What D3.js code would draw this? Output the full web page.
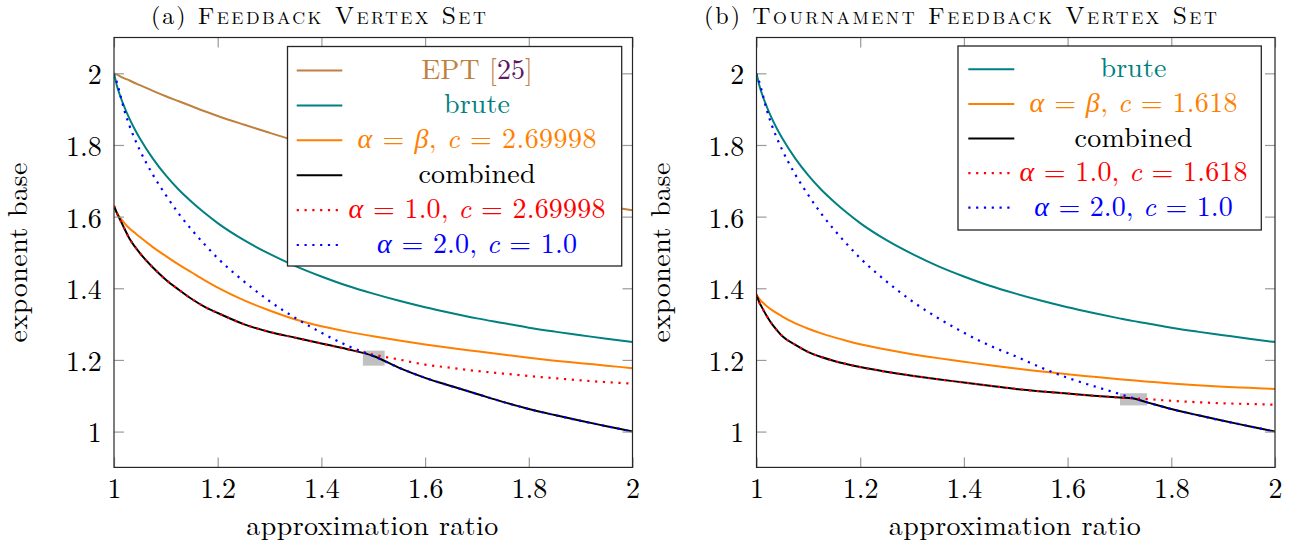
<!DOCTYPE html>
<html><head><meta charset="utf-8">
<script src="https://cdn.jsdelivr.net/npm/d3@7"></script>
<style>body{margin:0;background:#fff}svg{display:block}
svg text{font-family:"Latin Modern Roman","CMU Serif",cursive;}
svg text .sc{font-family:"Latin Modern Roman Caps","Latin Modern Roman",cursive;font-variant:small-caps;}</style>
</head><body>
<svg id="c" width="1301" height="552"></svg>
<script>
// ---------------- data ----------------
const xTickValues = [1, 1.2, 1.4, 1.6, 1.8, 2];
const xTickLabels = ["1", "1.2", "1.4", "1.6", "1.8", "2"];
const yTickValues = [1, 1.2, 1.4, 1.6, 1.8, 2];
const yTickLabels = ["1", "1.2", "1.4", "1.6", "1.8", "2"];

const titlePrefixes = ["(a)", "(b)"];
const titles = ["Feedback Vertex Set", "Tournament Feedback Vertex Set"];
const xLabel = "approximation ratio";
const yLabel = "exponent base";

// Panel (a): Feedback Vertex Set
const ratioA = [1, 1.005, 1.01, 1.02, 1.03, 1.04, 1.05, 1.075, 1.1, 1.125, 1.15, 1.175, 1.2, 1.25, 1.3, 1.35, 1.4, 1.45, 1.5, 1.55, 1.6, 1.65, 1.7, 1.75, 1.8, 1.85, 1.9, 1.95, 2];
const eptA = [2.000, 1.997, 1.993, 1.986, 1.980, 1.973, 1.967, 1.951, 1.936, 1.922, 1.908, 1.894, 1.881, 1.857, 1.834, 1.812, 1.792, 1.773, 1.755, 1.738, 1.722, 1.706, 1.692, 1.678, 1.665, 1.653, 1.641, 1.629, 1.618];
const bruteA = [2.000, 1.969, 1.945, 1.906, 1.873, 1.844, 1.818, 1.762, 1.715, 1.675, 1.641, 1.610, 1.582, 1.535, 1.496, 1.462, 1.433, 1.407, 1.385, 1.365, 1.347, 1.331, 1.316, 1.303, 1.290, 1.279, 1.269, 1.259, 1.250];
const equalA = [1.630, 1.612, 1.600, 1.582, 1.567, 1.555, 1.543, 1.515, 1.490, 1.466, 1.444, 1.422, 1.402, 1.367, 1.338, 1.313, 1.294, 1.279, 1.266, 1.254, 1.243, 1.233, 1.224, 1.215, 1.206, 1.198, 1.191, 1.184, 1.177];
const combinedA = [1.630, 1.612, 1.597, 1.567, 1.538, 1.517, 1.498, 1.458, 1.424, 1.396, 1.370, 1.348, 1.331, 1.300, 1.278, 1.262, 1.246, 1.230, 1.211, 1.178, 1.150, 1.127, 1.105, 1.083, 1.063, 1.046, 1.030, 1.015, 1.000];
const alpha1A = [1.630, 1.612, 1.597, 1.567, 1.538, 1.517, 1.498, 1.458, 1.424, 1.396, 1.370, 1.348, 1.331, 1.300, 1.278, 1.262, 1.246, 1.230, 1.215, 1.201, 1.187, 1.178, 1.169, 1.162, 1.155, 1.149, 1.143, 1.138, 1.134];
const alpha2A = [2.000, 1.978, 1.952, 1.897, 1.853, 1.817, 1.785, 1.717, 1.660, 1.608, 1.563, 1.522, 1.484, 1.420, 1.364, 1.317, 1.276, 1.240, 1.211, 1.178, 1.150, 1.127, 1.105, 1.083, 1.063, 1.046, 1.030, 1.015, 1.000];
const switchA = [1.48, 1.522, 1.184, 1.226];   // ratio from, ratio to, base from, base to
const namesA = ["EPT [25]", "brute", "α = β, c = 2.69998", "combined", "α = 1.0, c = 2.69998", "α = 2.0, c = 1.0"];

// Panel (b): Tournament Feedback Vertex Set
const ratioB = [1, 1.005, 1.01, 1.02, 1.03, 1.04, 1.05, 1.075, 1.1, 1.125, 1.15, 1.175, 1.2, 1.25, 1.3, 1.35, 1.4, 1.45, 1.5, 1.55, 1.6, 1.65, 1.7, 1.725, 1.75, 1.8, 1.85, 1.9, 1.95, 2];
const bruteB = [2.000, 1.969, 1.945, 1.906, 1.873, 1.844, 1.818, 1.762, 1.715, 1.675, 1.641, 1.610, 1.582, 1.535, 1.496, 1.462, 1.433, 1.407, 1.385, 1.365, 1.347, 1.331, 1.316, 1.309, 1.303, 1.290, 1.279, 1.269, 1.259, 1.250];
const equalB = [1.382, 1.371, 1.363, 1.350, 1.339, 1.330, 1.321, 1.302, 1.287, 1.274, 1.263, 1.253, 1.244, 1.229, 1.216, 1.205, 1.195, 1.185, 1.176, 1.168, 1.160, 1.153, 1.146, 1.143, 1.140, 1.134, 1.129, 1.125, 1.122, 1.119];
const combinedB = [1.382, 1.362, 1.348, 1.322, 1.300, 1.282, 1.266, 1.242, 1.222, 1.208, 1.197, 1.188, 1.180, 1.167, 1.156, 1.146, 1.137, 1.128, 1.119, 1.112, 1.106, 1.100, 1.095, 1.093, 1.083, 1.063, 1.046, 1.030, 1.015, 1.000];
const alpha1B = [1.382, 1.362, 1.348, 1.322, 1.300, 1.282, 1.266, 1.242, 1.222, 1.208, 1.197, 1.188, 1.180, 1.167, 1.156, 1.146, 1.137, 1.128, 1.119, 1.112, 1.106, 1.100, 1.095, 1.093, 1.091, 1.086, 1.082, 1.079, 1.077, 1.075];
const alpha2B = [2.000, 1.978, 1.952, 1.897, 1.853, 1.817, 1.785, 1.717, 1.660, 1.608, 1.563, 1.522, 1.484, 1.420, 1.364, 1.317, 1.276, 1.240, 1.210, 1.178, 1.150, 1.127, 1.105, 1.094, 1.083, 1.063, 1.046, 1.030, 1.015, 1.000];
const switchB = [1.701, 1.753, 1.073, 1.107];
const namesB = ["brute", "α = β, c = 1.618", "combined", "α = 1.0, c = 1.618", "α = 2.0, c = 1.0"];

// ---------------- styles / layout ----------------
const STYLE = {
  ept:      {color: "#bf8040", dash: null},
  brute:    {color: "#008080", dash: null},
  equal:    {color: "#ff8000", dash: null},
  combined: {color: "#000000", dash: null},
  alpha1:   {color: "#ff0000", dash: "2.2,5.6"},
  alpha2:   {color: "#0000ff", dash: "2.2,5.6"}
};
const CITE_COLOR = "#5e1760";

const svg = d3.select("#c");

function addLabel(sel, label, color) {
  const m = label.match(/^(.*\[)(\d+)(\].*)$/);
  if (m) {
    sel.append("tspan").text(m[1]).attr("fill", color);
    sel.append("tspan").text(m[2]).attr("fill", CITE_COLOR);
    sel.append("tspan").text(m[3]).attr("fill", color);
    return;
  }
  label.split(/(α|β|\bc\b)/).forEach(p => {
    if (!p) return;
    const t = sel.append("tspan").text(p).attr("fill", color);
    if (p === "α" || p === "β" || p === "c") t.attr("font-style", "italic");
  });
}

function drawPanel(cfg) {
  const W = 518.5, TOP = 37.5, BOT = 467.4;
  const x = d3.scaleLinear().domain([1, 2]).range([cfg.left, cfg.left + W]);
  const y = d3.scaleLinear().domain([0.9, 2.1]).range([BOT, TOP]);
  const g = svg.append("g");

  const clipId = "clip" + cfg.id;
  svg.append("clipPath").attr("id", clipId).append("rect")
    .attr("x", cfg.left).attr("y", TOP).attr("width", W).attr("height", BOT - TOP);

  const plot = g.append("g").attr("clip-path", `url(#${clipId})`);

  const r = cfg.switchBox;
  plot.append("rect")
    .attr("x", x(r[0])).attr("y", y(r[3]))
    .attr("width", x(r[1]) - x(r[0])).attr("height", y(r[2]) - y(r[3]))
    .attr("fill", "#c0c0c0");

  const line = d3.line().x(d => x(d[0])).y(d => y(d[1])).curve(d3.curveMonotoneX);
  cfg.series.forEach(s => {
    const st = STYLE[s.key];
    plot.append("path")
      .datum(cfg.ratio.map((v, i) => [v, s.values[i]]))
      .attr("d", line)
      .attr("fill", "none")
      .attr("stroke", st.color)
      .attr("stroke-width", st.dash ? 2.2 : 2)
      .attr("stroke-dasharray", st.dash)
      .attr("stroke-linecap", "butt");
  });

  const styleAxis = (a) => {
    a.attr("font-family", null);
    a.select(".domain").remove();
    a.selectAll(".tick line").attr("stroke", "#9a9a9a").attr("stroke-width", 1.2);
    a.selectAll("text").attr("font-size", 28).attr("fill", "#000");
  };
  g.append("g").attr("transform", `translate(0,${BOT})`)
    .call(d3.axisBottom(x).tickValues(xTickValues).tickFormat((d, i) => xTickLabels[i])
      .tickSizeInner(-10).tickSizeOuter(0).tickPadding(11))
    .call(styleAxis);
  g.append("g").attr("transform", `translate(0,${TOP})`)
    .call(d3.axisTop(x).tickValues(xTickValues).tickFormat("").tickSizeInner(-10).tickSizeOuter(0))
    .call(styleAxis);
  const yl = g.append("g").attr("transform", `translate(${cfg.left},0)`)
    .call(d3.axisLeft(y).tickValues(yTickValues).tickFormat((d, i) => yTickLabels[i])
      .tickSizeInner(-10).tickSizeOuter(0).tickPadding(12.3))
    .call(styleAxis);
  yl.selectAll("text").attr("dy", "0.37em");
  g.append("g").attr("transform", `translate(${cfg.left + W},0)`)
    .call(d3.axisRight(y).tickValues(yTickValues).tickFormat("").tickSizeInner(-10).tickSizeOuter(0))
    .call(styleAxis);

  g.append("rect").attr("x", cfg.left).attr("y", TOP).attr("width", W).attr("height", BOT - TOP)
    .attr("fill", "none").attr("stroke", "#262626").attr("stroke-width", 1.2);

  g.append("text").attr("x", cfg.left + W / 2 - 1).attr("y", 535)
    .attr("text-anchor", "middle").attr("font-size", 28)
    .attr("textLength", 252).attr("lengthAdjust", "spacing")
    .text(xLabel);
  g.append("text").attr("transform", `translate(${cfg.left - 87},${(TOP + BOT) / 2})rotate(-90)`)
    .attr("text-anchor", "middle").attr("font-size", 28)
    .attr("textLength", 180).attr("lengthAdjust", "spacing")
    .text(yLabel);

  const tt = g.append("text").attr("x", cfg.titleX).attr("y", 24)
    .attr("font-size", 24)
    .attr("textLength", cfg.titleW).attr("lengthAdjust", "spacing");
  tt.append("tspan").text(cfg.prefix + " ");
  tt.append("tspan").attr("class", "sc").text(cfg.title);

  const L = cfg.legend;
  g.append("rect").attr("x", L.x0).attr("y", L.y0).attr("width", L.x1 - L.x0).attr("height", L.y1 - L.y0)
    .attr("fill", "#fff").attr("stroke", "#262626").attr("stroke-width", 1.3);
  cfg.series.forEach((s, i) => {
    const st = STYLE[s.key];
    const ry = L.row0 + i * L.step;
    g.append("line").attr("x1", L.s0).attr("x2", L.s1).attr("y1", ry).attr("y2", ry)
      .attr("stroke", st.color).attr("stroke-width", st.dash ? 2.2 : 2)
      .attr("stroke-dasharray", st.dash);
    const t = g.append("text").attr("x", L.tc).attr("y", ry + 8)
      .attr("text-anchor", "middle").attr("font-size", 28)
      .attr("textLength", L.widths[i]).attr("lengthAdjust", "spacing");
    addLabel(t, s.name, st.color);
  });
}

drawPanel({
  id: "A", left: 114, ratio: ratioA, switchBox: switchA,
  prefix: titlePrefixes[0], title: titles[0], titleX: 151, titleW: 335,
  series: [
    {key: "ept", values: eptA, name: namesA[0]},
    {key: "brute", values: bruteA, name: namesA[1]},
    {key: "equal", values: equalA, name: namesA[2]},
    {key: "combined", values: combinedA, name: namesA[3]},
    {key: "alpha1", values: alpha1A, name: namesA[4]},
    {key: "alpha2", values: alpha2A, name: namesA[5]}
  ],
  legend: {x0: 287.5, x1: 621.7, y0: 46.5, y1: 266, s0: 296.7, s1: 342.3, tc: 477,
           row0: 70.5, step: 34.9, widths: [111.6, 66, 239, 117, 257, 200]}
});

drawPanel({
  id: "B", left: 756.5, ratio: ratioB, switchBox: switchB,
  prefix: titlePrefixes[1], title: titles[1], titleX: 704, titleW: 513,
  series: [
    {key: "brute", values: bruteB, name: namesB[0]},
    {key: "equal", values: equalB, name: namesB[1]},
    {key: "combined", values: combinedB, name: namesB[2]},
    {key: "alpha1", values: alpha1B, name: namesB[3]},
    {key: "alpha2", values: alpha2B, name: namesB[4]}
  ],
  legend: {x0: 958, x1: 1261.3, y0: 46, y1: 230, s0: 968.3, s1: 1014.3, tc: 1133.5,
           row0: 69.3, step: 34.6, widths: [66, 208, 118, 228, 198.5]}
});
</script>
</body></html>
